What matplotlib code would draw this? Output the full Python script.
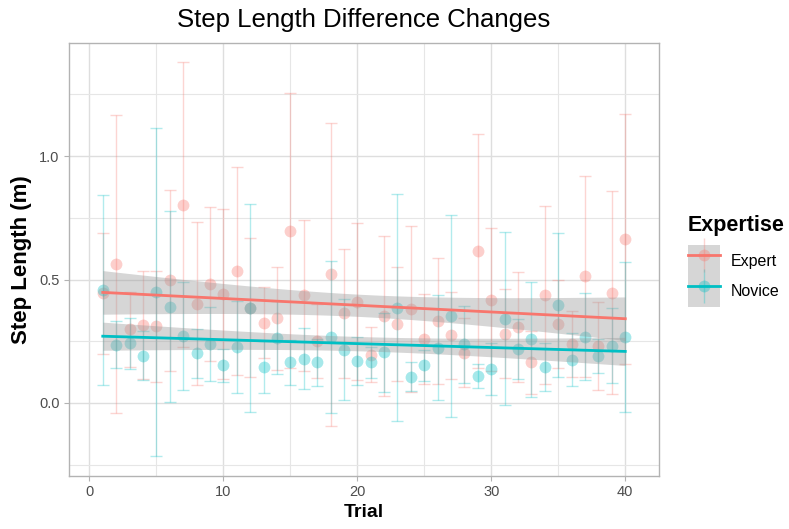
import numpy as np
import matplotlib.pyplot as plt
from matplotlib.patches import Patch
from matplotlib.lines import Line2D
from matplotlib.legend_handler import HandlerTuple

plt.rcParams['font.family'] = ['Liberation Sans', 'DejaVu Sans']

# data (mean +/- sd per trial)
trials = [1, 2, 3, 4, 5, 6, 7, 8, 9, 10,
          11, 12, 13, 14, 15, 16, 17, 18, 19, 20,
          21, 22, 23, 24, 25, 26, 27, 28, 29, 30,
          31, 32, 33, 34, 35, 36, 37, 38, 39, 40]
expert_mean = [0.445, 0.563, 0.299, 0.316, 0.310, 0.497, 0.804, 0.402, 0.481, 0.440,
               0.535, 0.386, 0.325, 0.343, 0.698, 0.436, 0.252, 0.521, 0.364, 0.410,
               0.196, 0.352, 0.321, 0.381, 0.258, 0.332, 0.274, 0.204, 0.616, 0.418,
               0.280, 0.308, 0.164, 0.436, 0.320, 0.240, 0.514, 0.230, 0.447, 0.664]
expert_sd = [0.245, 0.605, 0.152, 0.219, 0.226, 0.367, 0.576, 0.330, 0.311, 0.345,
             0.423, 0.281, 0.144, 0.209, 0.557, 0.306, 0.150, 0.613, 0.261, 0.319,
             0.112, 0.325, 0.231, 0.336, 0.183, 0.256, 0.177, 0.139, 0.474, 0.290,
             0.180, 0.223, 0.128, 0.360, 0.177, 0.134, 0.407, 0.178, 0.412, 0.506]
novice_mean = [0.457, 0.236, 0.242, 0.191, 0.450, 0.390, 0.271, 0.201, 0.240, 0.152,
               0.226, 0.386, 0.144, 0.265, 0.164, 0.180, 0.164, 0.268, 0.215, 0.171,
               0.164, 0.205, 0.386, 0.107, 0.153, 0.224, 0.353, 0.237, 0.109, 0.139,
               0.341, 0.219, 0.258, 0.144, 0.396, 0.176, 0.268, 0.190, 0.232, 0.269]
novice_sd = [0.385, 0.094, 0.104, 0.100, 0.665, 0.387, 0.219, 0.100, 0.150, 0.068,
             0.187, 0.422, 0.105, 0.148, 0.091, 0.122, 0.097, 0.308, 0.205, 0.098,
             0.063, 0.160, 0.460, 0.057, 0.063, 0.213, 0.410, 0.157, 0.050, 0.105,
             0.350, 0.121, 0.232, 0.097, 0.292, 0.106, 0.177, 0.068, 0.153, 0.304]

groups = ['Expert', 'Novice']
colors = {'Expert': '#F8766D', 'Novice': '#00BFC4'}
series = {'Expert': (expert_mean, expert_sd), 'Novice': (novice_mean, novice_sd)}

fig = plt.figure(figsize=(7.89, 5.29), dpi=100)
ax = fig.add_axes([0.0878, 0.1008, 0.7471, 0.8185])

x = np.array(trials, dtype=float)
t975 = 2.024  # t quantile, df = 38

for g in groups:
    m, s = np.array(series[g][0]), np.array(series[g][1])
    c = colors[g]
    ax.errorbar(x, m, yerr=s, fmt='none', ecolor=c, alpha=0.3, elinewidth=1.0,
                capsize=4.5, capthick=1.0, zorder=2)
    ax.plot(x, m, 'o', color=c, alpha=0.35, markersize=8.5, markeredgewidth=0, zorder=2)

for g in groups:
    m = np.array(series[g][0])
    b, a = np.polyfit(x, m, 1)
    xg = np.linspace(x.min(), x.max(), 80)
    fit = a + b * xg
    resid = m - (a + b * x)
    n = len(x)
    s_res = np.sqrt(np.sum(resid ** 2) / (n - 2))
    se = s_res * np.sqrt(1 / n + (xg - x.mean()) ** 2 / np.sum((x - x.mean()) ** 2))
    ax.fill_between(xg, fit - t975 * se, fit + t975 * se, color='#999999', alpha=0.4,
                    linewidth=0, zorder=3)
    ax.plot(xg, fit, color=colors[g], lw=2.0, zorder=4)

# limits like ggplot (5% expansion)
lo = min(min(np.array(expert_mean) - np.array(expert_sd)), min(np.array(novice_mean) - np.array(novice_sd)))
hi = max(max(np.array(expert_mean) + np.array(expert_sd)), max(np.array(novice_mean) + np.array(novice_sd)))
pad = (hi - lo) * 0.05
ax.set_ylim(lo - pad, hi + pad)
ax.set_xlim(-1.5, 42.5)

ax.set_xticks([0, 10, 20, 30, 40])
ax.set_xticks([5, 15, 25, 35], minor=True)
ax.set_yticks([0.0, 0.5, 1.0])
ax.set_yticklabels(['0.0', '0.5', '1.0'])
ax.set_yticks([-0.25, 0.25, 0.75, 1.25], minor=True)

ax.grid(True, which='major', color='#DEDEDE', lw=1.0, zorder=0)
ax.grid(True, which='minor', color='#E6E6E6', lw=0.8, zorder=0)
ax.set_axisbelow(True)
for sp in ax.spines.values():
    sp.set_color('#B3B3B3')
    sp.set_linewidth(1.0)
ax.tick_params(which='major', length=3.5, color='#B3B3B3', labelcolor='#4D4D4D', labelsize=10.5)
ax.tick_params(which='minor', length=0)

ax.set_title('Step Length Difference Changes', fontsize=18.5, pad=11)
ax.set_xlabel('Trial', fontsize=14, fontweight='bold', labelpad=3)
ax.set_ylabel('Step Length (m)', fontsize=16, fontweight='bold', labelpad=5)

handles = []
for g in groups:
    c = colors[g]
    bg = Patch(facecolor='#D6D6D6', edgecolor='none')
    vbar = Line2D([], [], marker='|', markersize=24, color=c, alpha=0.3, linestyle='none',
                  markeredgewidth=1.0)
    ln = Line2D([], [], color=c, lw=2.0)
    pt = Line2D([], [], marker='o', color=c, alpha=0.35, markersize=8.5, linestyle='none',
                markeredgewidth=0)
    handles.append((bg, vbar, ln, pt))

leg = fig.legend(handles, groups, handler_map={tuple: HandlerTuple(ndivide=1, pad=0)},
                 loc='center left', bbox_to_anchor=(0.872, 0.507), frameon=False,
                 fontsize=11.5, title='Expertise', handlelength=2.0, handleheight=2.6,
                 labelspacing=0.0, handletextpad=0.7, borderaxespad=0, borderpad=0)
leg.get_title().set_fontweight('bold')
leg.get_title().set_fontsize(15.5)
leg._legend_box.align = 'left'
leg._legend_box.sep = 7

fig.savefig('out.png', dpi=100)
